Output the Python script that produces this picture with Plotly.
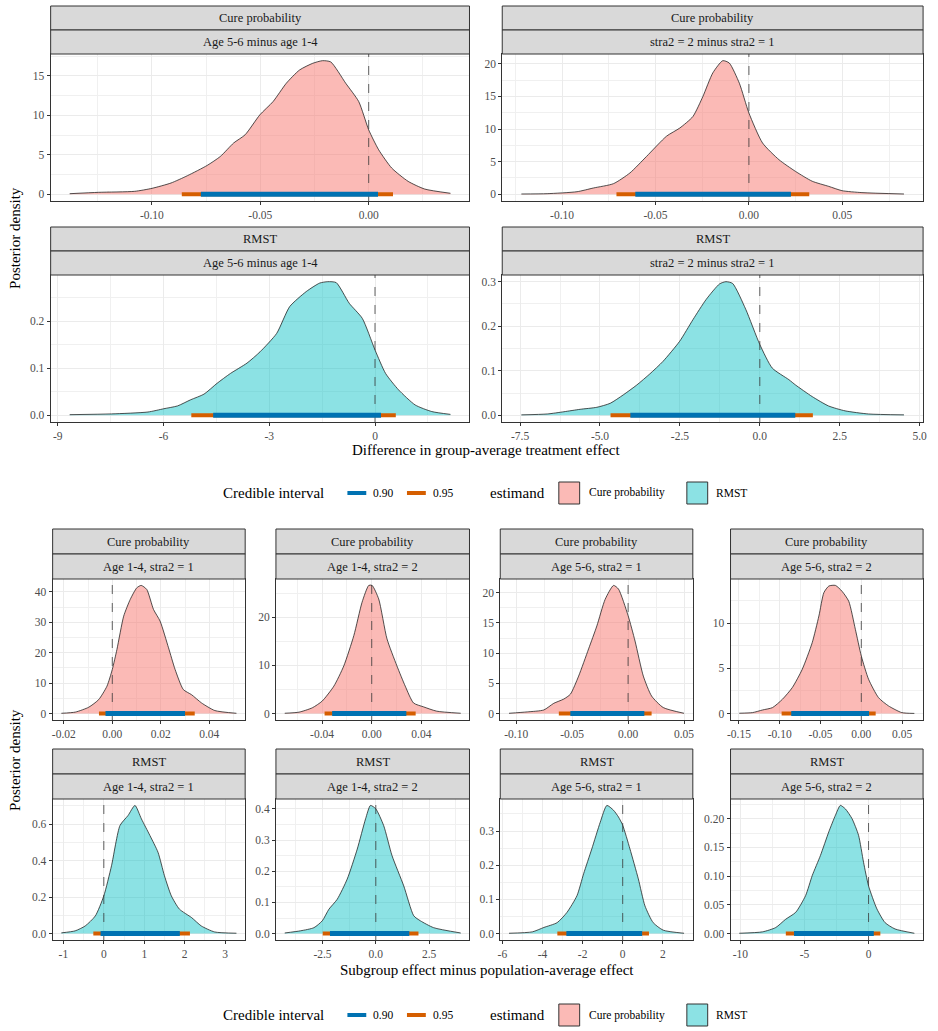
import plotly.graph_objects as go

# ---------------- data ----------------
estimands = ["Cure probability", "RMST"]
contrast_labels = ["Age 5-6 minus age 1-4", "stra2 = 2 minus stra2 = 1"]
subgroup_labels = ["Age 1-4, stra2 = 1", "Age 1-4, stra2 = 2", "Age 5-6, stra2 = 1", "Age 5-6, stra2 = 2"]

# Top block: group-average differences
cure_age_x = [-0.1379, -0.1246, -0.1079, -0.0999, -0.0912, -0.0836, -0.0745, -0.0684, -0.0623, -0.0570, -0.0502,
              -0.0441, -0.0380, -0.0319, -0.0258, -0.0213, -0.0175, -0.0106, -0.0046, 0.0000, 0.0046, 0.0106,
              0.0182, 0.0258, 0.0377]
cure_age_y = [0.08, 0.25, 0.38, 0.76, 1.43, 2.36, 3.66, 4.8, 6.5, 7.54, 10.07, 11.75, 14.07, 15.75, 16.6, 16.93,
              16.77, 14.07, 11.75, 8.17, 5.64, 3.33, 1.64, 0.67, 0.13]
cure_age_ci95 = [-0.0862, 0.0112]
cure_age_ci90 = [-0.0774, 0.0043]

cure_stra_x = [-0.1218, -0.1080, -0.0920, -0.0832, -0.0725, -0.0637, -0.0548, -0.0441, -0.0370, -0.0300, -0.0246,
               -0.0193, -0.0140, -0.0105, -0.0051, 0.0000, 0.0073, 0.0161, 0.0250, 0.0339, 0.0427, 0.0498,
               0.0605, 0.0830]
cure_stra_y = [0.05, 0.10, 0.40, 0.97, 1.63, 3.27, 5.8, 8.9, 10.15, 11.9, 15.0, 18.6, 20.46, 20.1, 17.0, 12.45,
               7.86, 5.3, 3.5, 2.0, 1.22, 0.56, 0.26, 0.05]
cure_stra_ci95 = [-0.0709, 0.0323]
cure_stra_ci90 = [-0.0608, 0.0225]

rmst_age_x = [-8.66, -7.47, -6.44, -5.99, -5.60, -5.23, -4.85, -4.48, -4.10, -3.63, -3.26, -2.79, -2.42, -1.95,
              -1.57, -1.34, -1.10, -0.73, -0.36, 0.00, 0.30, 0.67, 1.14, 1.61, 2.14]
rmst_age_y = [0.0014, 0.003, 0.007, 0.014, 0.020, 0.033, 0.045, 0.068, 0.089, 0.111, 0.135, 0.174, 0.231, 0.263,
              0.281, 0.284, 0.282, 0.238, 0.206, 0.139, 0.089, 0.054, 0.022, 0.008, 0.002]
rmst_age_ci95 = [-5.21, 0.59]
rmst_age_ci90 = [-4.59, 0.17]

rmst_stra_x = [-7.46, -6.65, -6.13, -5.62, -5.10, -4.68, -4.27, -3.85, -3.44, -3.03, -2.51, -2.09, -1.68, -1.26,
               -1.06, -0.85, -0.44, 0.00, 0.39, 0.91, 1.12, 1.64, 2.15, 2.67, 3.40, 4.51]
rmst_stra_y = [0.001, 0.003, 0.008, 0.0135, 0.018, 0.027, 0.046, 0.068, 0.093, 0.121, 0.166, 0.215, 0.260, 0.295,
               0.300, 0.296, 0.238, 0.159, 0.106, 0.080, 0.068, 0.042, 0.021, 0.010, 0.003, 0.001]
rmst_stra_ci95 = [-4.67, 1.66]
rmst_stra_ci90 = [-4.05, 1.11]

# Bottom block: subgroup effect minus population-average effect
cure_a14_s1_x = [-0.0210, -0.0152, -0.0097, -0.0056, -0.0022, 0.0000, 0.0019, 0.0047, 0.0074, 0.0101, 0.0119,
                 0.0142, 0.0170, 0.0197, 0.0232, 0.0259, 0.0293, 0.0327, 0.0368, 0.0423, 0.0512]
cure_a14_s1_y = [0.1, 0.5, 2.1, 4.6, 9.0, 14.5, 21.0, 32.0, 37.5, 41.3, 42.1, 40.8, 34.2, 30.4, 21.6, 14.5, 7.9,
                 6.2, 3.5, 1.0, 0.1]
cure_a14_s1_ci95 = [-0.0055, 0.0340]
cure_a14_s1_ci90 = [-0.0028, 0.0300]

cure_a14_s2_x = [-0.0701, -0.0586, -0.0479, -0.0399, -0.0305, -0.0225, -0.0144, -0.0078, -0.0024, 0.0003,
                 0.0056, 0.0123, 0.0203, 0.0270, 0.0337, 0.0417, 0.0524, 0.0717]
cure_a14_s2_y = [0.07, 0.3, 1.2, 2.6, 5.7, 9.9, 16.2, 23.1, 26.6, 26.6, 23.8, 15.5, 9.9, 5.7, 2.2, 1.4, 0.5, 0.07]
cure_a14_s2_ci95 = [-0.0380, 0.0354]
cure_a14_s2_ci90 = [-0.0319, 0.0279]

cure_a56_s1_x = [-0.1064, -0.0901, -0.0753, -0.0664, -0.0575, -0.0516, -0.0442, -0.0353, -0.0279, -0.0205,
                 -0.0130, -0.0086, 0.0000, 0.0062, 0.0136, 0.0210, 0.0314, 0.0500]
cure_a56_s1_y = [0.05, 0.28, 0.6, 1.7, 2.4, 3.2, 6.2, 10.7, 14.5, 18.9, 21.2, 20.6, 16.2, 12.0, 6.2, 2.9, 1.0, 0.05]
cure_a56_s1_ci95 = [-0.0619, 0.0210]
cure_a56_s1_ci90 = [-0.0516, 0.0145]

cure_a56_s2_x = [-0.1496, -0.1333, -0.1211, -0.1089, -0.0967, -0.0846, -0.0724, -0.0602, -0.0520, -0.0459,
                 -0.0398, -0.0317, -0.0236, -0.0154, -0.0073, 0.0000, 0.0089, 0.0211, 0.0333, 0.0496, 0.0650]
cure_a56_s2_y = [0.04, 0.11, 0.4, 0.66, 1.58, 2.87, 4.89, 7.83, 10.77, 13.35, 14.08, 14.15, 13.5, 12.4, 9.3, 6.36,
                 3.79, 1.76, 0.85, 0.11, 0.02]
cure_a56_s2_ci95 = [-0.0977, 0.0176]
cure_a56_s2_ci90 = [-0.0859, 0.0095]

rmst_a14_s1_x = [-1.05, -0.71, -0.46, -0.21, 0.00, 0.19, 0.40, 0.60, 0.77, 0.93, 1.14, 1.34, 1.50, 1.67, 1.87,
                 2.17, 2.41, 2.74, 3.28]
rmst_a14_s1_y = [0.004, 0.015, 0.042, 0.097, 0.207, 0.372, 0.593, 0.648, 0.703, 0.629, 0.538, 0.446, 0.317,
                 0.207, 0.134, 0.088, 0.042, 0.009, 0.002]
rmst_a14_s1_ci95 = [-0.26, 2.13]
rmst_a14_s1_ci90 = [-0.08, 1.88]

rmst_a14_s2_x = [-4.27, -3.52, -2.90, -2.51, -2.20, -1.81, -1.34, -0.87, -0.48, -0.25, 0.00, 0.37, 0.76, 1.31,
                 1.78, 2.09, 2.71, 3.98]
rmst_a14_s2_y = [0.002, 0.009, 0.019, 0.041, 0.078, 0.110, 0.175, 0.271, 0.368, 0.411, 0.400, 0.346, 0.250, 0.153,
                 0.057, 0.041, 0.019, 0.002]
rmst_a14_s2_ci95 = [-2.49, 2.00]
rmst_a14_s2_ci90 = [-2.15, 1.57]

rmst_a56_s1_x = [-5.67, -4.51, -3.93, -3.27, -2.78, -2.28, -1.95, -1.54, -1.12, -0.79, -0.46, -0.21, 0.00, 0.36,
                 0.78, 1.11, 1.52, 2.02, 3.06]
rmst_a56_s1_y = [0.001, 0.005, 0.018, 0.032, 0.062, 0.111, 0.175, 0.248, 0.326, 0.375, 0.361, 0.341, 0.317,
                 0.248, 0.160, 0.081, 0.032, 0.010, 0.001]
rmst_a56_s1_ci95 = [-3.26, 1.31]
rmst_a56_s1_ci90 = [-2.81, 0.97]

rmst_a56_s2_x = [-10.08, -8.27, -7.24, -6.46, -5.68, -4.91, -4.39, -3.75, -3.10, -2.58, -2.20, -1.81, -1.29,
                 -0.78, -0.39, 0.00, 0.65, 1.29, 2.07, 3.57]
rmst_a56_s2_y = [0.0006, 0.003, 0.0105, 0.025, 0.037, 0.066, 0.101, 0.136, 0.177, 0.206, 0.223, 0.217, 0.200,
                 0.171, 0.124, 0.083, 0.043, 0.019, 0.008, 0.0006]
rmst_a56_s2_ci95 = [-6.45, 0.92]
rmst_a56_s2_ci90 = [-5.81, 0.41]

# tick labels per panel
ticks_cure_age = (["-0.10", "-0.05", "0.00"], ["0", "5", "10", "15"])
ticks_cure_stra = (["-0.10", "-0.05", "0.00", "0.05"], ["0", "5", "10", "15", "20"])
ticks_rmst_age = (["-9", "-6", "-3", "0"], ["0.0", "0.1", "0.2"])
ticks_rmst_stra = (["-7.5", "-5.0", "-2.5", "0.0", "2.5", "5.0"], ["0.0", "0.1", "0.2", "0.3"])
ticks_cure_a14_s1 = (["-0.02", "0.00", "0.02", "0.04"], ["0", "10", "20", "30", "40"])
ticks_cure_a14_s2 = (["-0.04", "0.00", "0.04"], ["0", "10", "20"])
ticks_cure_a56_s1 = (["-0.10", "-0.05", "0.00", "0.05"], ["0", "5", "10", "15", "20"])
ticks_cure_a56_s2 = (["-0.15", "-0.10", "-0.05", "0.00", "0.05"], ["0", "5", "10"])
ticks_rmst_a14_s1 = (["-1", "0", "1", "2", "3"], ["0.0", "0.2", "0.4", "0.6"])
ticks_rmst_a14_s2 = (["-2.5", "0.0", "2.5"], ["0.0", "0.1", "0.2", "0.3", "0.4"])
ticks_rmst_a56_s1 = (["-6", "-4", "-2", "0", "2"], ["0.0", "0.1", "0.2", "0.3"])
ticks_rmst_a56_s2 = (["-10", "-5", "0"], ["0.00", "0.05", "0.10", "0.15", "0.20"])

x_title_top = "Difference in group-average treatment effect"
x_title_bottom = "Subgroup effect minus population-average effect"
y_title = "Posterior density"
legend_ci_title = "Credible interval"
ci_levels = ["0.90", "0.95"]
legend_est_title = "estimand"

panels = [
    (0, contrast_labels[0], cure_age_x, cure_age_y, cure_age_ci95, cure_age_ci90, ticks_cure_age),
    (0, contrast_labels[1], cure_stra_x, cure_stra_y, cure_stra_ci95, cure_stra_ci90, ticks_cure_stra),
    (1, contrast_labels[0], rmst_age_x, rmst_age_y, rmst_age_ci95, rmst_age_ci90, ticks_rmst_age),
    (1, contrast_labels[1], rmst_stra_x, rmst_stra_y, rmst_stra_ci95, rmst_stra_ci90, ticks_rmst_stra),
    (0, subgroup_labels[0], cure_a14_s1_x, cure_a14_s1_y, cure_a14_s1_ci95, cure_a14_s1_ci90, ticks_cure_a14_s1),
    (0, subgroup_labels[1], cure_a14_s2_x, cure_a14_s2_y, cure_a14_s2_ci95, cure_a14_s2_ci90, ticks_cure_a14_s2),
    (0, subgroup_labels[2], cure_a56_s1_x, cure_a56_s1_y, cure_a56_s1_ci95, cure_a56_s1_ci90, ticks_cure_a56_s1),
    (0, subgroup_labels[3], cure_a56_s2_x, cure_a56_s2_y, cure_a56_s2_ci95, cure_a56_s2_ci90, ticks_cure_a56_s2),
    (1, subgroup_labels[0], rmst_a14_s1_x, rmst_a14_s1_y, rmst_a14_s1_ci95, rmst_a14_s1_ci90, ticks_rmst_a14_s1),
    (1, subgroup_labels[1], rmst_a14_s2_x, rmst_a14_s2_y, rmst_a14_s2_ci95, rmst_a14_s2_ci90, ticks_rmst_a14_s2),
    (1, subgroup_labels[2], rmst_a56_s1_x, rmst_a56_s1_y, rmst_a56_s1_ci95, rmst_a56_s1_ci90, ticks_rmst_a56_s1),
    (1, subgroup_labels[3], rmst_a56_s2_x, rmst_a56_s2_y, rmst_a56_s2_ci95, rmst_a56_s2_ci90, ticks_rmst_a56_s2),
]

# ---------------- layout (pixel boxes) ----------------
W, H = 938, 1031
FONT = "Liberation Serif"
FILL = ["rgba(248,118,109,0.5)", "rgba(0,191,196,0.45)"]
C90, C95 = "#0072B2", "#D55E00"

# (x0, x1, strip_top, plot_top, plot_bottom)
boxes = [
    (48, 470, 6, 54, 201), (503, 927, 6, 54, 201),
    (48, 470, 227, 275, 422), (503, 927, 227, 275, 422),
    (50, 244, 529, 579, 720), (275, 470, 529, 579, 720), (501, 695, 529, 579, 720), (733, 927, 529, 579, 720),
    (50, 244, 749, 799, 940), (275, 470, 749, 799, 940), (501, 695, 749, 799, 940), (733, 927, 749, 799, 940),
]


def px(x):
    return x / W


def py(y):
    return 1 - y / H


def minor_vals(vals, lo, hi):
    step = vals[1] - vals[0]
    out = []
    v = vals[0] - step / 2
    while v > lo:
        out.append(v)
        v -= step
    v = vals[0] + step / 2
    while v < hi:
        out.append(v)
        v += step
    return sorted(out)


fig = go.Figure()
shapes, annos = [], []
layout_axes = {}

for i, ((est, lab, xs, ys, c95, c90, (xt, yt)), box) in enumerate(zip(panels, boxes)):
    n = i + 1
    xa = "x" if n == 1 else f"x{n}"
    ya = "y" if n == 1 else f"y{n}"
    x0, x1, st, pt, pb = box
    xmin, xmax = min(xs), max(xs)
    xe = (xmax - xmin) * 0.05
    ymax = max(ys)
    ye = ymax * 0.05
    xrng = [xmin - xe, xmax + xe]
    yrng = [-ye, ymax + ye]

    fig.add_trace(go.Scatter(x=xs, y=ys, mode="lines", fill="tozeroy", fillcolor=FILL[est],
                             line=dict(color="#1A1A1A", width=0.75, shape="spline", smoothing=0.6),
                             xaxis=xa, yaxis=ya, hoverinfo="skip", showlegend=False))
    fig.add_trace(go.Scatter(x=[0, 0], y=yrng, mode="lines",
                             line=dict(color="#3A3A3A", width=0.8, dash="dash"),
                             xaxis=xa, yaxis=ya, hoverinfo="skip", showlegend=False))
    fig.add_trace(go.Scatter(x=c95, y=[0, 0], mode="lines", line=dict(color=C95, width=4),
                             xaxis=xa, yaxis=ya, hoverinfo="skip", showlegend=False))
    fig.add_trace(go.Scatter(x=c90, y=[0, 0], mode="lines", line=dict(color=C90, width=5),
                             xaxis=xa, yaxis=ya, hoverinfo="skip", showlegend=False))

    xv = [float(t) for t in xt]
    yv = [float(t) for t in yt]
    common = dict(ticks="outside", ticklen=3, tickwidth=0.8, tickcolor="#333333",
                  showline=True, mirror=True, linecolor="#333333", linewidth=1,
                  showgrid=True, gridcolor="#EBEBEB", gridwidth=1, zeroline=False,
                  tickfont=dict(family=FONT, size=11.5, color="#4D4D4D"), fixedrange=True)
    layout_axes["xaxis" if n == 1 else f"xaxis{n}"] = dict(
        domain=[px(x0), px(x1)], range=xrng, anchor=ya, tickmode="array", tickvals=xv, ticktext=xt,
        minor=dict(tickmode="array", tickvals=minor_vals(xv, *xrng), showgrid=True,
                   gridcolor="#F0F0F0", gridwidth=0.6, ticks=""),
        **common)
    layout_axes["yaxis" if n == 1 else f"yaxis{n}"] = dict(
        domain=[py(pb), py(pt)], range=yrng, anchor=xa, tickmode="array", tickvals=yv, ticktext=yt,
        minor=dict(tickmode="array", tickvals=minor_vals(yv, *yrng), showgrid=True,
                   gridcolor="#F0F0F0", gridwidth=0.6, ticks=""),
        **common)

    # strips
    mid = (st + pt) / 2
    for (a, b, txt) in [(st, mid, estimands[est]), (mid, pt, lab)]:
        shapes.append(dict(type="rect", xref="paper", yref="paper", x0=px(x0), x1=px(x1), y0=py(b), y1=py(a),
                           fillcolor="#D9D9D9", line=dict(color="#333333", width=1), layer="above"))
        annos.append(dict(text=txt, xref="paper", yref="paper", x=px((x0 + x1) / 2), y=py((a + b) / 2),
                          showarrow=False, xanchor="center", yanchor="middle",
                          font=dict(family=FONT, size=12.5, color="#1A1A1A")))

# axis titles
for (cx, cy, txt) in [(487, 450, x_title_top), (488, 970, x_title_bottom)]:
    annos.append(dict(text=txt, xref="paper", yref="paper", x=px(cx), y=py(cy), showarrow=False,
                      xanchor="center", yanchor="middle", font=dict(family=FONT, size=15, color="#000000")))
for cy in [238, 760]:
    annos.append(dict(text=y_title, xref="paper", yref="paper", x=px(12), y=py(cy), showarrow=False,
                      textangle=-90, xanchor="center", yanchor="middle",
                      font=dict(family=FONT, size=15, color="#000000")))

# legends
for ly in [493, 1015]:
    annos.append(dict(text=legend_ci_title, xref="paper", yref="paper", x=px(220), y=py(ly), showarrow=False,
                      xanchor="left", yanchor="middle", font=dict(family=FONT, size=15, color="#000000")))
    for (k0, k1, col, tx, lab) in [(347, 366, C90, 371, ci_levels[0]), (407, 426, C95, 431, ci_levels[1])]:
        shapes.append(dict(type="line", xref="paper", yref="paper", x0=px(k0), x1=px(k1), y0=py(ly), y1=py(ly),
                           line=dict(color=col, width=4)))
        annos.append(dict(text=lab, xref="paper", yref="paper", x=px(tx), y=py(ly), showarrow=False,
                          xanchor="left", yanchor="middle", font=dict(family=FONT, size=11.5, color="#000000")))
    annos.append(dict(text=legend_est_title, xref="paper", yref="paper", x=px(489), y=py(ly), showarrow=False,
                      xanchor="left", yanchor="middle", font=dict(family=FONT, size=15, color="#000000")))
    for (k0, col, tx, lab) in [(560, FILL[0], 588, estimands[0]), (689, FILL[1], 716, estimands[1])]:
        shapes.append(dict(type="rect", xref="paper", yref="paper", x0=px(k0), x1=px(k0 + 21),
                           y0=py(ly + 11), y1=py(ly - 11), fillcolor=col, line=dict(color="#333333", width=1)))
        annos.append(dict(text=lab, xref="paper", yref="paper", x=px(tx), y=py(ly), showarrow=False,
                          xanchor="left", yanchor="middle", font=dict(family=FONT, size=11.5, color="#000000")))

fig.update_layout(width=W, height=H, margin=dict(l=0, r=0, t=0, b=0), autosize=False,
                  paper_bgcolor="white", plot_bgcolor="white", showlegend=False,
                  shapes=shapes, annotations=annos, font=dict(family=FONT), **layout_axes)

fig.write_html("out.html")
